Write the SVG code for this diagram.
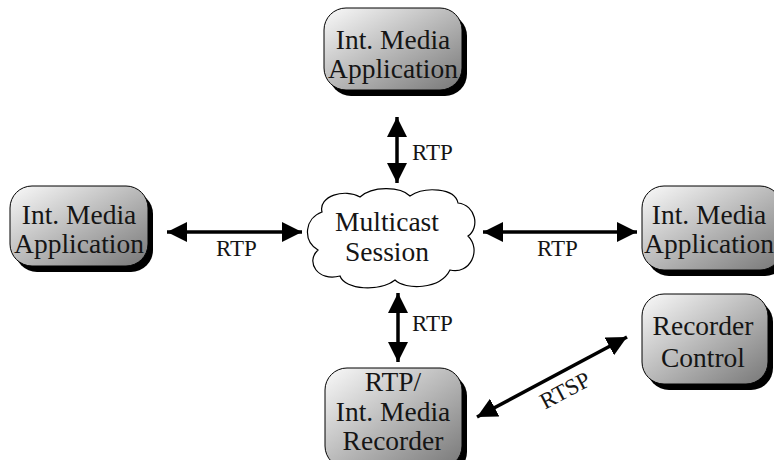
<svg xmlns="http://www.w3.org/2000/svg" width="774" height="460" viewBox="0 0 774 460" font-family="'Liberation Serif', 'Times New Roman', serif">
<defs>
<linearGradient id="g" x1="0" y1="0" x2="1" y2="1">
<stop offset="0" stop-color="#fafafa"/>
<stop offset="1" stop-color="#777"/>
</linearGradient>
<marker id="ah" markerUnits="userSpaceOnUse" markerWidth="20" markerHeight="20" refX="16" refY="8" orient="auto-start-reverse" viewBox="0 0 16 16">
<path d="M0,0 L16,8 L0,16 Z" fill="#000"/>
</marker>
<style>
.sh{fill:#000}
.bx{fill:url(#g);stroke:#000;stroke-width:1}
.nt{font-family:"Liberation Serif","Times New Roman",serif;font-size:27.5px;fill:#151515;text-anchor:middle}
.lb{font-family:"Liberation Serif","Times New Roman",serif;font-size:23px;fill:#151515}
.ar{stroke:#000;stroke-width:3.5;fill:none;marker-start:url(#ah);marker-end:url(#ah)}
</style>
</defs>
<rect width="774" height="460" fill="#fff"/>
<g id="connectors">
<line class="ar" x1="397" y1="117" x2="397" y2="183"/>
<line class="ar" x1="398" y1="293" x2="398" y2="362"/>
<line class="ar" x1="167" y1="232" x2="302" y2="232"/>
<line class="ar" x1="483" y1="232" x2="637" y2="232"/>
<line class="ar" x1="477" y1="417" x2="627" y2="337"/>
<text class="lb" x="412" y="160">RTP</text>
<text class="lb" x="412" y="331">RTP</text>
<text class="lb" x="216" y="256">RTP</text>
<text class="lb" x="537" y="256">RTP</text>
<text class="lb" x="565" y="398" text-anchor="middle" transform="rotate(-28 565 390)">RTSP</text>
</g>
<g id="cloud">
<path d="M322,212 C318,196 345,188 360,197 C372,186 400,186 410,196 C425,186 455,188 458,203 C476,205 480,228 468,236 C482,250 470,275 450,270 C440,290 405,290 395,280 C380,292 345,290 340,276 C318,282 305,262 318,250 C302,240 305,218 322,212 Z" fill="#fff" stroke="#000" stroke-width="1.2"/>
<text class="nt" x="387" y="231">Multicast</text>
<text class="nt" x="387" y="261">Session</text>
</g>
<g id="top-app">
<rect class="sh" x="329" y="14" width="138" height="82" rx="22"/>
<rect class="bx" x="324" y="8" width="138" height="82" rx="22"/>
<text class="nt" x="393" y="49">Int. Media</text>
<text class="nt" x="393" y="78">Application</text>
</g>
<g id="left-app">
<rect class="sh" x="15" y="192" width="138" height="80" rx="22"/>
<rect class="bx" x="10" y="186" width="138" height="80" rx="22"/>
<text class="nt" x="79" y="224">Int. Media</text>
<text class="nt" x="79" y="253">Application</text>
</g>
<g id="right-app">
<rect class="sh" x="647" y="192" width="140" height="84" rx="22"/>
<rect class="bx" x="642" y="186" width="140" height="84" rx="22"/>
<text class="nt" x="709" y="224">Int. Media</text>
<text class="nt" x="709" y="253">Application</text>
</g>
<g id="recorder-control">
<rect class="sh" x="647" y="300" width="126" height="90" rx="22"/>
<rect class="bx" x="642" y="294" width="126" height="90" rx="22"/>
<text class="nt" x="703" y="335">Recorder</text>
<text class="nt" x="703" y="367">Control</text>
</g>
<g id="recorder">
<rect class="sh" x="330" y="374" width="137" height="100" rx="22"/>
<rect class="bx" x="325" y="368" width="137" height="100" rx="22"/>
<text class="nt" x="393" y="391">RTP/</text>
<text class="nt" x="393" y="421">Int. Media</text>
<text class="nt" x="393" y="450">Recorder</text>
</g>
</svg>
